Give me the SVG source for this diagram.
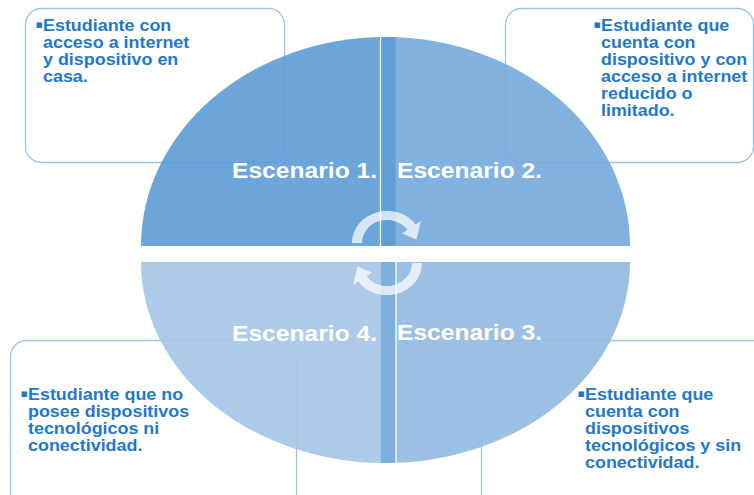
<svg xmlns="http://www.w3.org/2000/svg" width="754" height="495" viewBox="0 0 754 495">
<defs>
<style>
.box{fill:#ffffff;stroke:#9cc4eb;stroke-width:1.3}
.body{font-family:"Liberation Sans","DejaVu Sans",Arial,sans-serif;font-weight:bold;font-size:16px;fill:#1f78c8}
.bul{font-family:"DejaVu Sans","Liberation Sans",sans-serif;font-size:11px;fill:#1f78c8}
.head{font-family:"Liberation Sans",Arial,sans-serif;font-weight:bold;font-size:22px;fill:#ffffff}
.arr{fill:#ffffff;fill-opacity:0.72}
</style>
<clipPath id="eTop"><ellipse cx="385.5" cy="246" rx="244.5" ry="209"/></clipPath>
<clipPath id="eBot"><ellipse cx="385.5" cy="262" rx="244.5" ry="201"/></clipPath>
</defs>
<rect width="754" height="495" fill="#ffffff"/>

<g id="box1"><rect class="box" x="25.5" y="8.5" width="259" height="154" rx="16"/></g>
<g id="box2"><rect class="box" x="505.5" y="8.5" width="248" height="154" rx="16"/></g>
<g id="box4"><rect class="box" x="10.5" y="340.5" width="286" height="170" rx="16"/></g>
<g id="box3"><rect class="box" x="481.5" y="340.5" width="290" height="170" rx="16"/></g>

<g id="scenario1"><rect x="141" y="37" width="254" height="209" fill="#5e9dd6" fill-opacity="0.92" clip-path="url(#eTop)"/></g>
<g id="scenario2"><rect x="380" y="37" width="250" height="209" fill="#75aadc" fill-opacity="0.92" clip-path="url(#eTop)"/>
<rect x="380" y="37" width="15.5" height="209" fill="#5f9ed6" clip-path="url(#eTop)"/>
<line x1="380.5" y1="37" x2="380.5" y2="246" stroke="#ffffff" stroke-width="1.3"/></g>
<g id="scenario3"><rect x="381" y="262" width="249" height="201" fill="#92bbe2" fill-opacity="0.92" clip-path="url(#eBot)"/></g>
<g id="scenario4"><rect x="141" y="262" width="255" height="201" fill="#a7c6e7" fill-opacity="0.92" clip-path="url(#eBot)"/>
<rect x="381" y="262" width="15" height="201" fill="#7cafdc" clip-path="url(#eBot)"/>
<line x1="396" y1="262" x2="396" y2="463" stroke="#ffffff" stroke-width="1.3"/></g>

<g id="connectors">
<path class="arr" d="M352,243 A35,32 0 0 1 415.7,224.6 L421,220.8 L416.5,239.5 L402,233.6 L407.5,229.8 A25,23 0 0 0 362,243 Z"/>
<path class="arr" d="M352,243 A35,32 0 0 1 415.7,224.6 L421,220.8 L416.5,239.5 L402,233.6 L407.5,229.8 A25,23 0 0 0 362,243 Z" transform="rotate(180 387 253)"/>
</g>

<g id="labels">
<text class="head" transform="translate(232 178) scale(1.12 1)">Escenario 1.</text>
<text class="head" transform="translate(397 178) scale(1.12 1)">Escenario 2.</text>
<text class="head" transform="translate(397 340) scale(1.12 1)">Escenario 3.</text>
<text class="head" transform="translate(232 341) scale(1.12 1)">Escenario 4.</text>
</g>

<g id="text1">
<text class="bul" x="35.5" y="28">▪</text>
<text class="body" transform="translate(43 31) scale(1.12 1)"><tspan x="0" y="0">Estudiante con</tspan><tspan x="0" y="17">acceso a internet</tspan><tspan x="0" y="34">y dispositivo en</tspan><tspan x="0" y="51">casa.</tspan></text>
</g>
<g id="text2">
<text class="bul" x="593.5" y="28">▪</text>
<text class="body" transform="translate(601 31) scale(1.12 1)"><tspan x="0" y="0">Estudiante que</tspan><tspan x="0" y="17">cuenta con</tspan><tspan x="0" y="34">dispositivo y con</tspan><tspan x="0" y="51">acceso a internet</tspan><tspan x="0" y="68">reducido o</tspan><tspan x="0" y="85">limitado.</tspan></text>
</g>
<g id="text4">
<text class="bul" x="20.5" y="397">▪</text>
<text class="body" transform="translate(28 400) scale(1.12 1)"><tspan x="0" y="0">Estudiante que no</tspan><tspan x="0" y="17">posee dispositivos</tspan><tspan x="0" y="34">tecnológicos ni</tspan><tspan x="0" y="51">conectividad.</tspan></text>
</g>
<g id="text3">
<text class="bul" x="577.5" y="397">▪</text>
<text class="body" transform="translate(585 400) scale(1.12 1)"><tspan x="0" y="0">Estudiante que</tspan><tspan x="0" y="17">cuenta con</tspan><tspan x="0" y="34">dispositivos</tspan><tspan x="0" y="51">tecnológicos y sin</tspan><tspan x="0" y="68">conectividad.</tspan></text>
</g>
</svg>
